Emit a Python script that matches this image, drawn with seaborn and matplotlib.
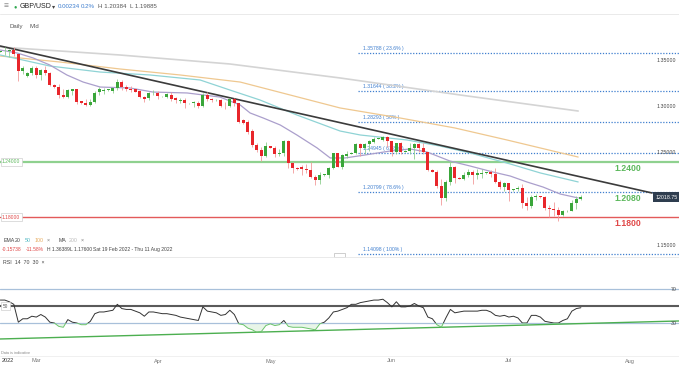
import numpy as np
import matplotlib
matplotlib.use("Agg")
import matplotlib.pyplot as plt
from matplotlib.patches import Rectangle
from matplotlib.lines import Line2D
import seaborn as sns

# one bar per session incl. the short Sunday opens; bar 0 = Sun 20 Feb 2022
opens = [1.3588, 1.3592, 1.3596, 1.3605, 1.3560, 1.3385, 1.3330, 1.3365, 1.3415, 1.3340,
         1.3395, 1.3360, 1.3230, 1.3212, 1.3120, 1.3100, 1.3170, 1.3182, 1.3055, 1.3035,
         1.3012, 1.3045, 1.3150, 1.3170, 1.3175, 1.3165, 1.3194, 1.3265, 1.3205, 1.3190,
         1.3184, 1.3169, 1.3097, 1.3090, 1.3140, 1.3147, 1.3108, 1.3104, 1.3122, 1.3093,
         1.3060, 1.3068, 1.3032, 1.3036, 1.3032, 1.3003, 1.3122, 1.3076, 1.3066, 1.3068,
         1.3003, 1.3000, 1.3076, 1.3036, 1.2852, 1.2834, 1.2730, 1.2580, 1.2530, 1.2465,
         1.2570, 1.2555, 1.2490, 1.2500, 1.2620, 1.2390, 1.2335, 1.2340, 1.2320, 1.2310,
         1.2235, 1.2200, 1.2258, 1.2262, 1.2330, 1.2495, 1.2345, 1.2460, 1.2490, 1.2500,
         1.2595, 1.2545, 1.2590, 1.2615, 1.2650, 1.2640, 1.2670, 1.2620, 1.2510, 1.2600,
         1.2510, 1.2518, 1.2545, 1.2595, 1.2545, 1.2505, 1.2312, 1.2295, 1.2135, 1.2010,
         1.2180, 1.2345, 1.2225, 1.2218, 1.2260, 1.2290, 1.2262, 1.2270, 1.2275, 1.2290,
         1.2268, 1.2186, 1.2132, 1.2170, 1.2096, 1.2105, 1.2120, 1.1953, 1.1918, 1.2024,
         1.2030, 1.2022, 1.1898, 1.1890, 1.1885, 1.1830, 1.1865, 1.1870, 1.1955, 1.1995]
highs = [1.3596, 1.3640, 1.3622, 1.3640, 1.3570, 1.3440, 1.3370, 1.3440, 1.3440, 1.3405,
         1.3440, 1.3370, 1.3240, 1.3240, 1.3185, 1.3190, 1.3190, 1.3190, 1.3060, 1.3075,
         1.3080, 1.3160, 1.3210, 1.3200, 1.3185, 1.3200, 1.3298, 1.3280, 1.3225, 1.3220,
         1.3190, 1.3180, 1.3115, 1.3150, 1.3175, 1.3160, 1.3115, 1.3140, 1.3150, 1.3100,
         1.3090, 1.3090, 1.3040, 1.3060, 1.3060, 1.3148, 1.3150, 1.3090, 1.3075, 1.3080,
         1.3050, 1.3090, 1.3090, 1.3040, 1.2860, 1.2850, 1.2760, 1.2600, 1.2560, 1.2610,
         1.2575, 1.2570, 1.2540, 1.2640, 1.2640, 1.2400, 1.2340, 1.2365, 1.2380, 1.2400,
         1.2260, 1.2290, 1.2268, 1.2340, 1.2500, 1.2500, 1.2480, 1.2520, 1.2505, 1.2600,
         1.2600, 1.2600, 1.2640, 1.2665, 1.2660, 1.2680, 1.2675, 1.2630, 1.2600, 1.2610,
         1.2525, 1.2600, 1.2600, 1.2600, 1.2600, 1.2510, 1.2320, 1.2310, 1.2210, 1.2205,
         1.2406, 1.2350, 1.2235, 1.2290, 1.2320, 1.2310, 1.2325, 1.2320, 1.2295, 1.2310,
         1.2330, 1.2200, 1.2180, 1.2175, 1.2110, 1.2140, 1.2165, 1.2020, 1.2040, 1.2050,
         1.2035, 1.2030, 1.1935, 1.1970, 1.1910, 1.1880, 1.1875, 1.1990, 1.2035, 1.2038]
lows = [1.3584, 1.3550, 1.3535, 1.3545, 1.3272, 1.3350, 1.3320, 1.3340, 1.3310, 1.3280,
        1.3340, 1.3220, 1.3200, 1.3090, 1.3090, 1.3090, 1.3120, 1.3030, 1.3030, 1.3000,
        1.3000, 1.3040, 1.3120, 1.3130, 1.3170, 1.3140, 1.3180, 1.3180, 1.3160, 1.3150,
        1.3150, 1.3090, 1.3050, 1.3070, 1.3120, 1.3080, 1.3100, 1.3090, 1.3060, 1.3040,
        1.3040, 1.2985, 1.3025, 1.2990, 1.2980, 1.2990, 1.3060, 1.3050, 1.3060, 1.2990,
        1.2970, 1.2990, 1.3000, 1.2820, 1.2810, 1.2700, 1.2560, 1.2510, 1.2410, 1.2450,
        1.2550, 1.2450, 1.2460, 1.2460, 1.2330, 1.2280, 1.2310, 1.2260, 1.2280, 1.2225,
        1.2155, 1.2160, 1.2250, 1.2230, 1.2320, 1.2340, 1.2320, 1.2440, 1.2485, 1.2480,
        1.2460, 1.2480, 1.2520, 1.2600, 1.2645, 1.2620, 1.2560, 1.2460, 1.2490, 1.2480,
        1.2505, 1.2490, 1.2430, 1.2510, 1.2480, 1.2300, 1.2290, 1.2120, 1.1934, 1.1975,
        1.2150, 1.2170, 1.2210, 1.2200, 1.2240, 1.2160, 1.2210, 1.2230, 1.2270, 1.2240,
        1.2170, 1.2110, 1.2090, 1.1975, 1.2090, 1.2080, 1.1900, 1.1876, 1.1900, 1.1990,
        1.2015, 1.1880, 1.1805, 1.1810, 1.1760, 1.1810, 1.1860, 1.1865, 1.1890, 1.1989]
closes = [1.3592, 1.3596, 1.3605, 1.3560, 1.3385, 1.3410, 1.3365, 1.3415, 1.3340, 1.3395,
          1.3360, 1.3235, 1.3212, 1.3120, 1.3100, 1.3180, 1.3182, 1.3050, 1.3035, 1.3012,
          1.3045, 1.3140, 1.3185, 1.3180, 1.3180, 1.3194, 1.3265, 1.3205, 1.3184, 1.3180,
          1.3158, 1.3097, 1.3080, 1.3140, 1.3148, 1.3110, 1.3112, 1.3129, 1.3076, 1.3068,
          1.3068, 1.3032, 1.3036, 1.3043, 1.3003, 1.3122, 1.3076, 1.3068, 1.3070, 1.3007,
          1.2998, 1.3076, 1.3036, 1.2834, 1.2816, 1.2726, 1.2580, 1.2530, 1.2465, 1.2570,
          1.2555, 1.2490, 1.2500, 1.2620, 1.2390, 1.2335, 1.2320, 1.2320, 1.2310, 1.2235,
          1.2200, 1.2258, 1.2262, 1.2330, 1.2495, 1.2345, 1.2475, 1.2490, 1.2500, 1.2595,
          1.2545, 1.2590, 1.2630, 1.2650, 1.2655, 1.2670, 1.2620, 1.2510, 1.2600, 1.2510,
          1.2518, 1.2545, 1.2595, 1.2545, 1.2505, 1.2312, 1.2295, 1.2135, 1.2010, 1.2180,
          1.2345, 1.2225, 1.2218, 1.2260, 1.2290, 1.2262, 1.2278, 1.2275, 1.2290, 1.2268,
          1.2186, 1.2132, 1.2170, 1.2096, 1.2105, 1.2120, 1.1953, 1.1918, 1.2024, 1.2030,
          1.2022, 1.1898, 1.1890, 1.1885, 1.1830, 1.1865, 1.1870, 1.1955, 1.1995, 1.2019]

rsi = [57, 57, 55, 52, 31, 35, 35, 38, 37, 40,
       37, 31, 30, 26, 25, 34, 31, 30, 28, 28,
       32, 41, 43, 43, 44, 45, 52, 47, 46, 46,
       44, 42, 38, 43, 43, 42, 41, 41, 40, 39,
       37, 36, 35, 34, 33, 49, 44, 43, 42, 39,
       40, 45, 40, 29, 28, 24, 22, 19, 20, 27,
       29, 27, 28, 33, 26, 25, 25, 25, 24, 23,
       22, 29, 31, 36, 43, 44, 46, 48, 52, 52,
       54, 55, 56, 57, 57, 58, 54, 49, 55, 49,
       49, 50, 53, 50, 48, 37, 35, 28, 25, 36,
       46, 42, 43, 44, 44, 44, 44, 45, 45, 43,
       39, 38, 39, 37, 38, 36, 30, 30, 39, 39,
       37, 32, 31, 30, 30, 33, 35, 44, 47, 48]

# moving averages (bar position, price)
ema20_k = [0, 3.7, 7.3, 11, 14.8, 18.4, 22.2, 28.8, 33.9, 41.5, 48.8, 53.3, 55.5, 58.4, 62.2,
           65.9, 70.4, 73.3, 76.6, 81, 86.6, 91, 94.8, 99.9, 104.4, 109.5, 113.3, 117, 120.6,
           124.4, 128.4]
ema20 = [1.3608, 1.3576, 1.3522, 1.3446, 1.3338, 1.3262, 1.3208, 1.3198, 1.3154, 1.3144,
         1.3100, 1.3014, 1.2928, 1.2874, 1.2798, 1.2690, 1.2550, 1.2442, 1.2442, 1.2474,
         1.2517, 1.2539, 1.2507, 1.2409, 1.2355, 1.2290, 1.2247, 1.2183, 1.2128, 1.2053,
         1.2010]
ema50_k = [0, 11, 22.2, 33.3, 44.4, 51, 57.7, 65.9, 75.5, 80, 90.4, 97.7, 104.4, 113.3,
           120, 128.4]
ema50 = [1.3554, 1.3435, 1.3370, 1.3338, 1.3284, 1.3176, 1.3068, 1.2906, 1.2733, 1.2690,
         1.2636, 1.2571, 1.2496, 1.2377, 1.2280, 1.2183]
ema100_k = [0, 13.3, 26.6, 40, 53.3, 64.4, 75.5, 88.8, 101, 112.6, 128.4]
ema100 = [1.3543, 1.3478, 1.3403, 1.3338, 1.3262, 1.3122, 1.2982, 1.2874, 1.2766, 1.2636,
          1.2452]
ma200_k = [0, 26.6, 51, 75.5, 102.2, 128.4]
ma200 = [1.3640, 1.3554, 1.3457, 1.3306, 1.3122, 1.2949]

trend_k = [0, 144.8]
trend_price = [1.3651, 1.2064]
rsi_trend_k = [-0.1, 150.8]
rsi_trend = [11.2, 32.4]

fib_levels = [1.35788, 1.31644, 1.28293, 1.24945, 1.20799, 1.14098]
fib_pct = ["23.6%", "38.2%", "50%", "61.8%", "78.6%", "100%"]
level_values = [1.2400, 1.2080, 1.1800]
level_text = ["1.2400", "1.2080", "1.1800"]
price_ticks = [1.35, 1.30, 1.25, 1.15]
month_labels = ["Mar", "Apr", "May", "Jun", "Jul", "Aug"]
month_k = [8, 35, 60, 87, 113, 140]
last_price = 1.20187

W, H = 679, 366
GREEN = "#3aa63a"
RED = "#e8262b"
FIB = "#3f7fcf"


def fx(px):
    return px / W


def fy(py):
    return 1 - py / H


sns.set_style("white")
plt.rcParams["font.family"] = ["Liberation Sans", "DejaVu Sans"]

fig = plt.figure(figsize=(W / 100, H / 100), dpi=100)
ax = fig.add_axes([0, fy(262), 1, fy(37) - fy(262)])
ax_rsi = fig.add_axes([0, fy(350), 1, fy(266) - fy(350)])

xlim = (-0.07, 150.8)
k = np.arange(len(closes))
o = np.array(opens)
c = np.array(closes)

# main price panel
for lvl in fib_levels:
    ax.plot([79.5, xlim[1]], [lvl, lvl], color=FIB, lw=0.9, ls=(0, (1, 1.3)), zorder=1)
for lvl, pct in zip(fib_levels, fib_pct):
    ax.text(80.6, lvl + 0.0018, f"{lvl:.5f} ( {pct} )", color=FIB, fontsize=3.7,
            va="bottom", ha="left", zorder=2)

ax.axhline(1.24, color="#8fd18f", lw=1.6, zorder=1)
ax.axhline(1.18, color="#e35a5a", lw=1.0, zorder=1)

sns.lineplot(x=ma200_k, y=ma200, ax=ax, color="#d4d4d4", lw=1.2, sort=False, estimator=None)
sns.lineplot(x=ema100_k, y=ema100, ax=ax, color="#efc890", lw=0.9, sort=False, estimator=None)
sns.lineplot(x=ema50_k, y=ema50, ax=ax, color="#8fd3d5", lw=0.9, sort=False, estimator=None)
sns.lineplot(x=ema20_k, y=ema20, ax=ax, color="#ab9fcc", lw=0.9, sort=False, estimator=None)
sns.lineplot(x=trend_k, y=trend_price, ax=ax, color="#3b3b3b", lw=1.2, sort=False,
             estimator=None)

up = c >= o
body_col = np.where(up, GREEN, RED)
wick_col = np.where(up, "#8fcf8f", "#f29a9a")
ax.vlines(k, lows, highs, colors=wick_col, lw=0.6, zorder=4)
body_h = np.maximum(np.abs(c - o), 0.0007)
ax.bar(k, body_h, bottom=np.minimum(o, c), width=0.62, color=body_col, lw=0, zorder=5)

for val, txt, col in zip(level_values, level_text, ["#5cb85c", "#5cb85c", "#e04848"]):
    ax.text(139.5, val - 0.0022, txt, color=col, fontsize=6.2, ha="center", va="top",
            fontweight="bold", zorder=6)

for t in price_ticks:
    ax.text(0.996, t, f"{t:.5f}", transform=ax.get_yaxis_transform(), ha="right",
            va="center", fontsize=3.8, color="#444444", zorder=6)

box = dict(boxstyle="square,pad=0.3", fc="white", ec="#cfcfcf", lw=0.5)
ax.text(0.003, 1.24, "1.24000", transform=ax.get_yaxis_transform(), color="#5cb85c",
        fontsize=3.6, va="center", ha="left", bbox=box, zorder=7)
ax.text(0.003, 1.18, "1.18000", transform=ax.get_yaxis_transform(), color="#e04848",
        fontsize=3.6, va="center", ha="left", bbox=box, zorder=7)

ax.text(0.998, last_price, "12018.75", transform=ax.get_yaxis_transform(), color="white",
        fontsize=3.8, ha="right", va="center", zorder=8,
        bbox=dict(boxstyle="square,pad=0.45", fc="#2e3d4f", ec="none"))

ax.set_xlim(xlim)
ax.set_ylim(1.13186, 1.37484)
ax.axis("off")

# RSI panel
ax_rsi.axhline(70, color="#a8c0da", lw=0.9)
ax_rsi.axhline(30, color="#a8c0da", lw=0.9)
ax_rsi.axhline(50, color="#5a5a5a", lw=1.5)
sns.lineplot(x=rsi_trend_k, y=rsi_trend, ax=ax_rsi, color="#4caf50", lw=1.0, sort=False,
             estimator=None)
r = np.array(rsi, dtype=float)
ax_rsi.fill_between(k, r, 30, where=r < 30, interpolate=True, color="#e8f5e8", lw=0)
sns.lineplot(x=k, y=r, ax=ax_rsi, color="#333333", lw=0.7, sort=False, estimator=None)
dark = ax_rsi.lines[-1]
sns.lineplot(x=k, y=r, ax=ax_rsi, color="#6cc46c", lw=0.7, sort=False, estimator=None)
light = ax_rsi.lines[-1]
dark.set_clip_path(Rectangle((-5, 30), 200, 100, transform=ax_rsi.transData))
light.set_clip_path(Rectangle((-5, -50), 200, 80, transform=ax_rsi.transData))
ax_rsi.text(0.996, 70, "70", transform=ax_rsi.get_yaxis_transform(), ha="right",
            va="center", fontsize=3.8, color="#444444")
ax_rsi.text(0.996, 30, "30", transform=ax_rsi.get_yaxis_transform(), ha="right",
            va="center", fontsize=3.8, color="#444444")
ax_rsi.text(0.004, 50, "50", transform=ax_rsi.get_yaxis_transform(), ha="left",
            va="center", fontsize=3.4, color="#555555", zorder=6,
            bbox=dict(boxstyle="square,pad=0.35", fc="white", ec="#cfcfcf", lw=0.5))
ax_rsi.set_xlim(xlim)
ax_rsi.set_ylim(-1.76, 97.1)
ax_rsi.axis("off")

# x axis labels
for lab, mk in zip(month_labels, month_k):
    fig.text(fx(0.3 + 4.5 * mk), fy(361), lab, ha="center", va="center", fontsize=4,
             color="#777777")
fig.text(fx(2), fy(361), "2022", ha="left", va="center", fontsize=4, color="#333333")
fig.text(fx(1), fy(353), "Data is indicative", ha="left", va="center", fontsize=2.8,
         color="#888888")

# header and info rows
fig.text(fx(4), fy(6.5), "\u2261", fontsize=6, color="#888888", va="center")
fig.text(fx(14), fy(6.5), "\u25cf", fontsize=4, color="#2fa84f", va="center")
fig.text(fx(20), fy(6.5), "GBP/USD", fontsize=5, color="#222222", va="center")
fig.text(fx(52), fy(6.5), "\u25be", fontsize=4.5, color="#444444", va="center")
fig.text(fx(58), fy(6.5), "0.00234", fontsize=4.4, color="#3f7fcf", va="center")
fig.text(fx(81), fy(6.5), "0.2%", fontsize=4.4, color="#3f7fcf", va="center")
fig.text(fx(98), fy(6.5), "H 1.20384  L 1.19885", fontsize=4.4, color="#555555",
         va="center")
fig.text(fx(9), fy(26.5), "Daily", fontsize=4.3, color="#555555", va="center")
fig.text(fx(29), fy(26.5), "Mid", fontsize=4.3, color="#555555", va="center")

row = [(4, "EMA", "#444444"), (15, "20", "#444444"), (25, "50", "#4fb8c2"),
       (35, "100", "#e6a95a"), (47, "\u00d7", "#777777"), (59, "MA", "#444444"),
       (69, "200", "#bbbbbb"), (81, "\u00d7", "#777777")]
for px, txt, col in row:
    fig.text(fx(px), fy(240.5), txt, fontsize=3.8, color=col, va="center")
row2 = [(2, "-0.15738", "#e04848"), (26, "-11.58%", "#e04848"),
        (47, "H 1.36389", "#444444"), (70, "L 1.17600", "#444444"),
        (93, "Sat 19 Feb 2022 - Thu 11 Aug 2022", "#444444")]
for px, txt, col in row2:
    fig.text(fx(px), fy(249.5), txt, fontsize=3.6, color=col, va="center")
fig.text(fx(3), fy(262), "RSI  14  70  30  \u00d7", fontsize=3.8, color="#444444",
         va="center")

fig.add_artist(Line2D([0, 1], [fy(14), fy(14)], color="#e6e6e6", lw=0.6))
fig.add_artist(Line2D([0, 1], [fy(257), fy(257)], color="#e6e6e6", lw=0.6))
fig.add_artist(Line2D([0, 1], [fy(356), fy(356)], color="#eeeeee", lw=0.6))
fig.add_artist(Rectangle((fx(334), fy(257)), fx(11), fy(253) - fy(257), fc="white",
                         ec="#bbbbbb", lw=0.5))

fig.savefig("out.png", dpi=100)
